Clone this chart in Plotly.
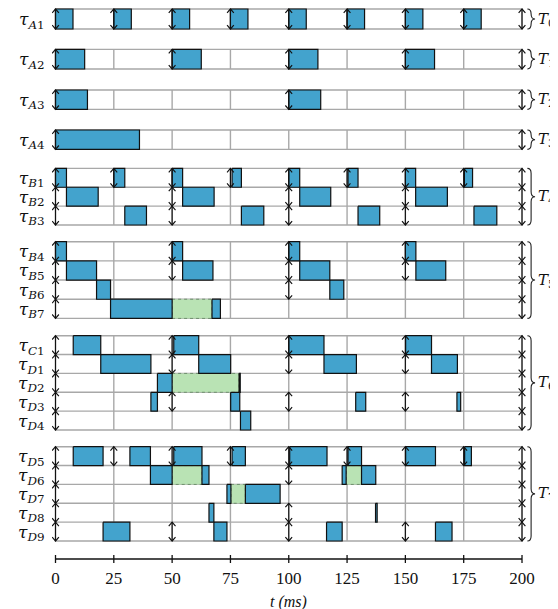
import plotly.graph_objects as go

# ---------------- data (times in ms) ----------------
X_TICKS = [0, 25, 50, 75, 100, 125, 150, 175, 200]
GRID_X = [25, 50, 75, 100, 125, 150, 175]
HORIZON = 200

A1_RUN = [(0, 7.5), (25, 32.5), (50, 57.5), (75, 82.5), (100, 107.5), (125, 132.5), (150, 157.5), (175, 182.5)]
A1_REL = [0, 25, 50, 75, 100, 125, 150, 175, 200]
A2_RUN = [(0, 12.5), (50, 62.5), (100, 112.5), (150, 162.5)]
A2_REL = [0, 50, 100, 150, 200]
A3_RUN = [(0, 13.7), (100, 113.7)]
A3_REL = [0, 100, 200]
A4_RUN = [(0, 36)]
A4_REL = [0, 200]

B1_RUN = [(0, 4.7), (25, 29.7), (50, 54.5), (75.7, 79.7), (100, 104.7), (125.4, 129.7), (150, 154.4), (175.3, 178.8)]
B1_REL = [0, 25, 50, 75, 100, 125, 150, 175, 200]
B2_RUN = [(4.7, 18.3), (54.5, 68), (104.7, 118), (154.4, 168)]
B2_REL = [0, 50, 100, 150, 200]
B3_RUN = [(29.7, 39), (79.7, 89.3), (129.7, 139), (179.4, 189.2)]
B3_REL = [0, 50, 100, 150, 200]

B4_RUN = [(0, 4.7), (50, 54.5), (100, 104.7), (150, 154.5)]
B4_REL = [0, 50, 100, 150, 200]
B5_RUN = [(4.7, 17.6), (54.5, 67.5), (104.7, 117.6), (154.5, 167.3)]
B5_REL = [0, 50, 100, 150, 200]
B6_RUN = [(17.6, 23.6), (117.6, 123.6)]
B6_REL = [0, 100, 200]
B7_RUN = [(23.6, 50), (67.1, 70.7)]
B7_WAIT = [(50, 67.1)]
B7_REL = [0, 200]

C1_RUN = [(7.6, 19.4), (50.7, 61.4), (100, 115.1), (150.1, 161.2)]
C1_REL = [0, 50, 100, 150, 200]
D1_RUN = [(19.4, 40.9), (61.4, 75.1), (115.1, 129), (161.2, 172.3)]
D1_REL = [0, 50, 100, 150, 200]
D2_RUN = [(43.7, 50), (78.7, 79.2)]
D2_WAIT = [(50, 78.7)]
D2_REL = [0, 200]
D3_RUN = [(40.9, 43.7), (75.1, 79), (128.7, 133), (172.1, 173.7)]
D3_REL = [0, 50, 100, 150, 200]
D4_RUN = [(79.3, 83.7)]
D4_REL = [0, 200]

D5_RUN = [(7.6, 20.4), (31.9, 40.7), (50.7, 62.8), (75.7, 81.4), (100.4, 116.4), (125.4, 131.2), (150.1, 162.9), (175.4, 178.3)]
D5_REL = [0, 25, 50, 75, 100, 125, 150, 175, 200]
D6_RUN = [(40.7, 50), (62.8, 65.8), (122.9, 124.6), (131.2, 137.3)]
D6_WAIT = [(50, 62.8), (124.6, 131.2)]
D6_REL = [0, 100, 200]
D7_RUN = [(73.5, 75.2), (81.4, 96.3)]
D7_WAIT = [(75.2, 81.4)]
D7_REL = [0, 200]
D8_RUN = [(65.8, 67.9), (137.2, 137.9)]
D8_REL = [0, 100, 200]
D9_RUN = [(20.4, 31.9), (67.9, 73.5), (116.2, 122.9), (162.9, 170)]
D9_REL = [0, 50, 100, 150, 200]

GROUP_NAMES = ["0", "1", "2", "3", "4", "5", "6", "7"]
GROUP_TASKS = [
    [("A1", A1_RUN, [], A1_REL)],
    [("A2", A2_RUN, [], A2_REL)],
    [("A3", A3_RUN, [], A3_REL)],
    [("A4", A4_RUN, [], A4_REL)],
    [("B1", B1_RUN, [], B1_REL), ("B2", B2_RUN, [], B2_REL), ("B3", B3_RUN, [], B3_REL)],
    [("B4", B4_RUN, [], B4_REL), ("B5", B5_RUN, [], B5_REL), ("B6", B6_RUN, [], B6_REL), ("B7", B7_RUN, B7_WAIT, B7_REL)],
    [("C1", C1_RUN, [], C1_REL), ("D1", D1_RUN, [], D1_REL), ("D2", D2_RUN, D2_WAIT, D2_REL),
     ("D3", D3_RUN, [], D3_REL), ("D4", D4_RUN, [], D4_REL)],
    [("D5", D5_RUN, [], D5_REL), ("D6", D6_RUN, D6_WAIT, D6_REL), ("D7", D7_RUN, D7_WAIT, D7_REL),
     ("D8", D8_RUN, [], D8_REL), ("D9", D9_RUN, [], D9_REL)],
]

# ---------------- layout (vertical positions in px-like units) ----------------
GROUP_Y = [(7.3, 27.3), (47.7, 67.3), (88.3, 107.7), (128.3, 147.7),
           (166.7, 223.3), (240, 316.7), (334, 428.3), (445, 539.3)]
AXIS_Y = 557.3
BLUE = "#43a3cd"
GREEN = "#b9e3b4"
GRAY = "#a8a8a8"
HEAD_DX = 1.45
HEAD_DY = 3.9

fig = go.Figure()
shapes = []
annotations = []

run_x, run_y = [], []
wait_x, wait_y = [], []
arr_x, arr_y = [], []
tickvals, ticktext = [], []

def add_rects(segs, y0, y1, xs, ys):
    for s, e in segs:
        xs += [s, e, e, s, s, None]
        ys += [y0, y0, y1, y1, y0, None]

for gi, tasks in enumerate(GROUP_TASKS):
    gt, gb = GROUP_Y[gi]
    n = len(tasks)
    rh = (gb - gt) / n
    shapes.append(dict(type="rect", xref="x", yref="y", x0=0, x1=HORIZON, y0=gt, y1=gb,
                       line=dict(color=GRAY, width=1.4), layer="below"))
    for gx in GRID_X:
        shapes.append(dict(type="line", xref="x", yref="y", x0=gx, x1=gx, y0=gt, y1=gb,
                           line=dict(color=GRAY, width=1.4), layer="below"))
    for k in range(1, n):
        yy = gt + k * rh
        shapes.append(dict(type="line", xref="x", yref="y", x0=0, x1=HORIZON, y0=yy, y1=yy,
                           line=dict(color=GRAY, width=1.4), layer="below"))
    for k, (name, run, wait, rel) in enumerate(tasks):
        y0 = gt + k * rh
        y1 = y0 + rh
        tickvals.append((y0 + y1) / 2)
        ticktext.append("<i>τ</i><sub><i>%s</i>%s</sub>" % (name[0], name[1:]))
        add_rects(run, y0, y1, run_x, run_y)
        add_rects(wait, y0, y1, wait_x, wait_y)
        for r in rel:
            arr_x += [r, r, None, r - HEAD_DX, r, r + HEAD_DX, None, r - HEAD_DX, r, r + HEAD_DX, None]
            arr_y += [y0, y1, None, y0 + HEAD_DY, y0, y0 + HEAD_DY, None, y1 - HEAD_DY, y1, y1 - HEAD_DY, None]
    ym = (gt + gb) / 2
    x0, x1, xt = 202.3, 203.9, 205.6
    r = min(5.0, (gb - gt) / 4)
    path = ("M {x0},{gt} Q {x1},{gt} {x1},{a} L {x1},{b} Q {x1},{ym} {xt},{ym} "
            "Q {x1},{ym} {x1},{c} L {x1},{d} Q {x1},{gb} {x0},{gb}").format(
        x0=x0, x1=x1, xt=xt, gt=gt, gb=gb, ym=ym, a=gt + r, b=ym - r, c=ym + r, d=gb - r)
    shapes.append(dict(type="path", xref="x", yref="y", path=path,
                       line=dict(color="#222", width=1.1), layer="above"))
    annotations.append(dict(x=205.8, y=ym, xref="x", yref="y", xanchor="left", yanchor="middle",
                            text="<i>T</i><sub>%s</sub>" % GROUP_NAMES[gi], showarrow=False,
                            font=dict(family="DejaVu Serif", size=15, color="#111")))

fig.add_trace(go.Scatter(x=wait_x, y=wait_y, mode="lines", fill="toself", fillcolor=GREEN,
                         line=dict(color="#6e8f6c", width=1, dash="dot"), hoverinfo="skip",
                         showlegend=False))
fig.add_trace(go.Scatter(x=run_x, y=run_y, mode="lines", fill="toself", fillcolor=BLUE,
                         line=dict(color="#111", width=1.2), hoverinfo="skip", showlegend=False))
fig.add_trace(go.Scatter(x=arr_x, y=arr_y, mode="lines",
                         line=dict(color="#111", width=1.15), hoverinfo="skip", showlegend=False))

ax_x, ax_y = [0, HORIZON, None], [AXIS_Y, AXIS_Y, None]
for t in X_TICKS:
    ax_x += [t, t, None]
    ax_y += [AXIS_Y - 4, AXIS_Y + 4, None]
fig.add_trace(go.Scatter(x=ax_x, y=ax_y, mode="lines", line=dict(color="#111", width=1.3),
                         hoverinfo="skip", showlegend=False))

annotations.append(dict(x=100, y=-0.0645, xref="x", yref="paper", xanchor="center", yanchor="middle",
                        text="<i>t</i> <i>(ms)</i>", showarrow=False,
                        font=dict(family="Liberation Serif", size=16, color="#111")))

# the page has an 8px body margin, so the figure is drawn 8px in from the window edge
fig.update_layout(
    width=550, height=601,
    margin=dict(l=44, r=1, t=0, b=43),
    plot_bgcolor="white", paper_bgcolor="white",
    shapes=shapes, annotations=annotations, showlegend=False,
    xaxis=dict(range=[-1.5, 215], tickvals=X_TICKS, ticktext=[str(t) for t in X_TICKS],
               showgrid=False, zeroline=False, showline=False, ticks="", automargin=False,
               tickfont=dict(family="Liberation Serif", size=17, color="#111")),
    yaxis=dict(range=[564.3, 6.3], tickvals=tickvals, ticktext=ticktext, showgrid=False,
               zeroline=False, showline=False, ticks="outside", ticklen=3,
               tickcolor="rgba(0,0,0,0)", automargin=False,
               tickfont=dict(family="DejaVu Serif", size=17, color="#111")),
)

fig.write_html("out.html")
